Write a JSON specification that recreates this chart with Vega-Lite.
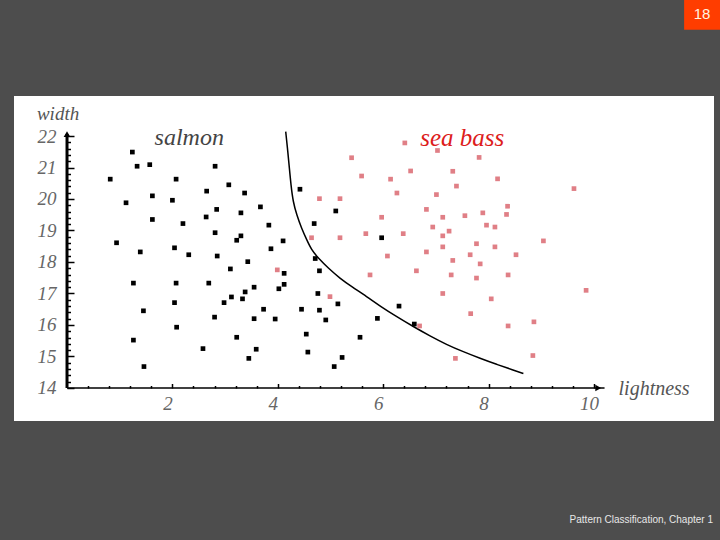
{
  "$schema": "https://vega.github.io/schema/vega-lite/v6.json",
  "width": 700,
  "height": 325,
  "autosize": {"type": "none"},
  "padding": {"left": 14, "top": 96, "right": 6, "bottom": 119},
  "background": "#4d4d4d",
  "config": {"view": {"fill": "white", "stroke": null}},
  "encoding": {
    "x": {
      "field": "x", "type": "quantitative",
      "scale": {"domain": [-1.006, 12.277], "nice": false, "zero": false},
      "axis": {
        "offset": -33, "domain": false, "grid": false, "title": null,
        "values": [0.4,0.8,1.2,1.6,2,2.4,2.8,3.2,3.6,4,4.4,4.8,5.2,5.6,6,6.4,6.8,7.2,7.6,8,8.4,8.8,9.2,9.6,10],
        "labelExpr": "abs(datum.value - 2*round(datum.value/2)) < 0.01 ? format(datum.value,'d') : ''",
        "tickSize": {"condition": {"test": "abs(datum.value - 2*round(datum.value/2)) < 0.01", "value": -4.5}, "value": -2.5},
        "tickColor": "black", "tickWidth": 1.5,
        "labelFont": "Liberation Serif", "labelFontStyle": "italic", "labelFontSize": 19, "labelColor": "#666",
        "labelPadding": 11, "labelOffset": -5, "labelOverlap": false, "labelBound": false, "labelFlush": false
      }
    },
    "y": {
      "field": "y", "type": "quantitative",
      "scale": {"domain": [12.952, 23.27], "nice": false, "zero": false},
      "axis": {
        "offset": -53, "domain": false, "grid": false, "title": null,
        "values": [14,14.2,14.4,14.6,14.8,15,15.2,15.4,15.6,15.8,16,16.2,16.4,16.6,16.8,17,17.2,17.4,17.6,17.8,18,18.2,18.4,18.6,18.8,19,19.2,19.4,19.6,19.8,20,20.2,20.4,20.6,20.8,21,21.2,21.4,21.6,21.8,22],
        "labelExpr": "abs(datum.value - round(datum.value)) < 0.01 ? format(datum.value,'d') : ''",
        "tickSize": {"condition": {"test": "abs(datum.value - round(datum.value)) < 0.01", "value": -7}, "value": -3.5},
        "tickColor": "black", "tickWidth": 1.5,
        "labelFont": "Liberation Serif", "labelFontStyle": "italic", "labelFontSize": 19, "labelColor": "#666",
        "labelPadding": 18, "labelOverlap": false, "labelBound": false, "labelFlush": false
      }
    }
  },
  "layer": [
    {
      "data": {"values": [{"x": 11.71, "x2": 12.5, "y": 25.37, "y2": 26.5}]},
      "mark": {"type": "rect", "color": "#ff3d00"},
      "encoding": {"x2": {"field": "x2"}, "y2": {"field": "y2"}}
    },
    {
      "data": {"values": [{"x": 12.05, "y": 25.87, "t": "18"}]},
      "mark": {"type": "text", "font": "Liberation Sans", "fontSize": 15, "color": "#fff3e0", "align": "center", "baseline": "middle"},
      "encoding": {"text": {"field": "t"}}
    },
    {
      "data": {"values": [{"x": 12.258, "y": 9.81, "t": "Pattern Classification, Chapter 1"}]},
      "mark": {"type": "text", "font": "Liberation Sans", "fontSize": 10, "color": "#e8e8e8", "align": "right", "baseline": "middle"},
      "encoding": {"text": {"field": "t"}}
    },
    {
      "data": {"values": [{"x": 0, "y": 14, "x2": 0, "y2": 22.05}]},
      "mark": {"type": "rule", "color": "black", "strokeWidth": 3},
      "encoding": {"x2": {"field": "x2"}, "y2": {"field": "y2"}}
    },
    {
      "data": {"values": [{"x": 0, "y": 14, "x2": 10.2, "y2": 14}]},
      "mark": {"type": "rule", "color": "black", "strokeWidth": 1.5},
      "encoding": {"x2": {"field": "x2"}, "y2": {"field": "y2"}}
    },
    {
      "data": {"values": [{"x": 0, "y": 22.06}]},
      "mark": {"type": "point", "shape": "triangle-up", "filled": true, "color": "black", "size": 45, "opacity": 1}
    },
    {
      "data": {"values": [{"x": 10.08, "y": 14}]},
      "mark": {"type": "point", "shape": "triangle-right", "filled": true, "color": "black", "size": 45, "opacity": 1}
    },
    {
      "data": {"values": [
        {"x": 4.15, "y": 22.14}, {"x": 4.19, "y": 21.5}, {"x": 4.22, "y": 20.97}, {"x": 4.25, "y": 20.44},
        {"x": 4.29, "y": 19.91}, {"x": 4.36, "y": 19.49}, {"x": 4.45, "y": 19.07}, {"x": 4.55, "y": 18.7},
        {"x": 4.64, "y": 18.38}, {"x": 4.77, "y": 18.12}, {"x": 4.96, "y": 17.8}, {"x": 5.18, "y": 17.48},
        {"x": 5.4, "y": 17.22}, {"x": 5.69, "y": 16.9}, {"x": 5.94, "y": 16.6}, {"x": 6.26, "y": 16.26},
        {"x": 6.57, "y": 15.95}, {"x": 6.89, "y": 15.65}, {"x": 7.2, "y": 15.38}, {"x": 7.52, "y": 15.15},
        {"x": 7.84, "y": 14.94}, {"x": 8.15, "y": 14.75}, {"x": 8.47, "y": 14.57}, {"x": 8.66, "y": 14.46}
      ]},
      "mark": {"type": "line", "color": "black", "strokeWidth": 1.5, "interpolate": "basis"},
      "encoding": {"order": {"field": "x"}}
    },
    {
      "data": {"values": [
        {"x": 1.24, "y": 21.49, "cls": "salmon"}, {"x": 1.33, "y": 21.04, "cls": "salmon"}, {"x": 1.57, "y": 21.09, "cls": "salmon"},
        {"x": 2.81, "y": 21.04, "cls": "salmon"}, {"x": 0.82, "y": 20.63, "cls": "salmon"}, {"x": 2.07, "y": 20.63, "cls": "salmon"},
        {"x": 3.07, "y": 20.45, "cls": "salmon"}, {"x": 2.65, "y": 20.25, "cls": "salmon"}, {"x": 3.37, "y": 20.19, "cls": "salmon"},
        {"x": 1.62, "y": 20.1, "cls": "salmon"}, {"x": 1.12, "y": 19.88, "cls": "salmon"}, {"x": 2.0, "y": 19.96, "cls": "salmon"},
        {"x": 3.67, "y": 19.75, "cls": "salmon"}, {"x": 2.84, "y": 19.67, "cls": "salmon"}, {"x": 3.3, "y": 19.56, "cls": "salmon"},
        {"x": 2.64, "y": 19.43, "cls": "salmon"}, {"x": 1.62, "y": 19.35, "cls": "salmon"}, {"x": 2.2, "y": 19.22, "cls": "salmon"},
        {"x": 2.81, "y": 18.93, "cls": "salmon"}, {"x": 3.3, "y": 18.83, "cls": "salmon"}, {"x": 3.22, "y": 18.69, "cls": "salmon"},
        {"x": 0.94, "y": 18.61, "cls": "salmon"}, {"x": 2.04, "y": 18.45, "cls": "salmon"}, {"x": 1.39, "y": 18.32, "cls": "salmon"},
        {"x": 2.31, "y": 18.23, "cls": "salmon"}, {"x": 2.85, "y": 18.19, "cls": "salmon"}, {"x": 3.43, "y": 18.01, "cls": "salmon"},
        {"x": 3.1, "y": 17.78, "cls": "salmon"}, {"x": 1.26, "y": 17.33, "cls": "salmon"}, {"x": 2.07, "y": 17.33, "cls": "salmon"},
        {"x": 2.69, "y": 17.33, "cls": "salmon"}, {"x": 3.55, "y": 17.2, "cls": "salmon"}, {"x": 3.38, "y": 17.05, "cls": "salmon"},
        {"x": 3.12, "y": 16.89, "cls": "salmon"}, {"x": 3.33, "y": 16.83, "cls": "salmon"}, {"x": 2.98, "y": 16.71, "cls": "salmon"},
        {"x": 2.04, "y": 16.71, "cls": "salmon"}, {"x": 3.73, "y": 16.5, "cls": "salmon"}, {"x": 1.45, "y": 16.45, "cls": "salmon"},
        {"x": 2.8, "y": 16.25, "cls": "salmon"}, {"x": 3.55, "y": 16.2, "cls": "salmon"}, {"x": 2.08, "y": 15.93, "cls": "salmon"},
        {"x": 3.22, "y": 15.61, "cls": "salmon"}, {"x": 1.26, "y": 15.52, "cls": "salmon"}, {"x": 2.58, "y": 15.25, "cls": "salmon"},
        {"x": 3.59, "y": 15.23, "cls": "salmon"}, {"x": 3.45, "y": 14.94, "cls": "salmon"}, {"x": 1.46, "y": 14.68, "cls": "salmon"},
        {"x": 4.42, "y": 20.31, "cls": "salmon"}, {"x": 5.1, "y": 19.62, "cls": "salmon"}, {"x": 3.83, "y": 19.17, "cls": "salmon"},
        {"x": 4.69, "y": 19.22, "cls": "salmon"}, {"x": 4.1, "y": 18.67, "cls": "salmon"}, {"x": 3.87, "y": 18.42, "cls": "salmon"},
        {"x": 5.97, "y": 18.77, "cls": "salmon"}, {"x": 4.71, "y": 18.11, "cls": "salmon"}, {"x": 4.79, "y": 17.72, "cls": "salmon"},
        {"x": 4.12, "y": 17.64, "cls": "salmon"}, {"x": 4.12, "y": 17.29, "cls": "salmon"}, {"x": 4.02, "y": 17.15, "cls": "salmon"},
        {"x": 4.76, "y": 17.0, "cls": "salmon"}, {"x": 4.45, "y": 16.5, "cls": "salmon"}, {"x": 5.14, "y": 16.67, "cls": "salmon"},
        {"x": 4.79, "y": 16.47, "cls": "salmon"}, {"x": 3.95, "y": 16.19, "cls": "salmon"}, {"x": 4.91, "y": 16.16, "cls": "salmon"},
        {"x": 6.3, "y": 16.6, "cls": "salmon"}, {"x": 5.89, "y": 16.21, "cls": "salmon"}, {"x": 6.59, "y": 16.03, "cls": "salmon"},
        {"x": 4.54, "y": 15.71, "cls": "salmon"}, {"x": 5.56, "y": 15.61, "cls": "salmon"}, {"x": 4.57, "y": 15.14, "cls": "salmon"},
        {"x": 5.22, "y": 14.97, "cls": "salmon"}, {"x": 5.07, "y": 14.68, "cls": "salmon"},
        {"x": 6.41, "y": 21.78, "cls": "sea bass"}, {"x": 7.03, "y": 21.54, "cls": "sea bass"}, {"x": 5.4, "y": 21.31, "cls": "sea bass"},
        {"x": 7.82, "y": 21.32, "cls": "sea bass"}, {"x": 6.52, "y": 20.89, "cls": "sea bass"}, {"x": 7.32, "y": 20.88, "cls": "sea bass"},
        {"x": 5.59, "y": 20.73, "cls": "sea bass"}, {"x": 6.14, "y": 20.63, "cls": "sea bass"}, {"x": 8.17, "y": 20.64, "cls": "sea bass"},
        {"x": 7.39, "y": 20.41, "cls": "sea bass"}, {"x": 6.26, "y": 20.19, "cls": "sea bass"}, {"x": 7.01, "y": 20.14, "cls": "sea bass"},
        {"x": 4.79, "y": 20.01, "cls": "sea bass"}, {"x": 5.18, "y": 20.01, "cls": "sea bass"}, {"x": 6.82, "y": 19.67, "cls": "sea bass"},
        {"x": 7.89, "y": 19.56, "cls": "sea bass"}, {"x": 7.55, "y": 19.47, "cls": "sea bass"}, {"x": 5.97, "y": 19.42, "cls": "sea bass"},
        {"x": 7.13, "y": 19.42, "cls": "sea bass"}, {"x": 7.96, "y": 19.17, "cls": "sea bass"}, {"x": 8.12, "y": 19.11, "cls": "sea bass"},
        {"x": 6.94, "y": 19.11, "cls": "sea bass"}, {"x": 7.25, "y": 18.98, "cls": "sea bass"}, {"x": 7.13, "y": 18.83, "cls": "sea bass"},
        {"x": 4.64, "y": 18.77, "cls": "sea bass"}, {"x": 5.18, "y": 18.77, "cls": "sea bass"}, {"x": 5.67, "y": 18.9, "cls": "sea bass"},
        {"x": 6.38, "y": 18.9, "cls": "sea bass"}, {"x": 7.77, "y": 18.58, "cls": "sea bass"}, {"x": 8.12, "y": 18.48, "cls": "sea bass"},
        {"x": 7.13, "y": 18.48, "cls": "sea bass"}, {"x": 6.82, "y": 18.32, "cls": "sea bass"}, {"x": 7.65, "y": 18.23, "cls": "sea bass"},
        {"x": 6.08, "y": 18.19, "cls": "sea bass"}, {"x": 7.32, "y": 18.05, "cls": "sea bass"}, {"x": 7.84, "y": 17.94, "cls": "sea bass"},
        {"x": 9.62, "y": 20.33, "cls": "sea bass"}, {"x": 8.36, "y": 19.77, "cls": "sea bass"}, {"x": 8.34, "y": 19.51, "cls": "sea bass"},
        {"x": 9.04, "y": 18.67, "cls": "sea bass"}, {"x": 8.52, "y": 18.23, "cls": "sea bass"}, {"x": 3.99, "y": 17.75, "cls": "sea bass"},
        {"x": 6.63, "y": 17.72, "cls": "sea bass"}, {"x": 5.75, "y": 17.59, "cls": "sea bass"}, {"x": 7.29, "y": 17.59, "cls": "sea bass"},
        {"x": 7.77, "y": 17.49, "cls": "sea bass"}, {"x": 7.13, "y": 17.0, "cls": "sea bass"}, {"x": 8.05, "y": 16.83, "cls": "sea bass"},
        {"x": 4.99, "y": 16.9, "cls": "sea bass"}, {"x": 7.66, "y": 16.36, "cls": "sea bass"}, {"x": 6.69, "y": 15.97, "cls": "sea bass"},
        {"x": 7.37, "y": 14.94, "cls": "sea bass"}, {"x": 8.37, "y": 17.59, "cls": "sea bass"}, {"x": 9.85, "y": 17.1, "cls": "sea bass"},
        {"x": 8.86, "y": 16.1, "cls": "sea bass"}, {"x": 8.37, "y": 15.97, "cls": "sea bass"}, {"x": 8.84, "y": 15.03, "cls": "sea bass"}
      ]},
      "mark": {"type": "point", "shape": "square", "filled": true, "size": 22, "opacity": 1},
      "encoding": {
        "color": {"field": "cls", "type": "nominal", "scale": {"domain": ["salmon", "sea bass"], "range": ["#000000", "#e07f86"]}, "legend": null}
      }
    },
    {
      "data": {"values": [{"x": 2.32, "y": 21.94, "t": "salmon"}]},
      "mark": {"type": "text", "font": "Liberation Serif", "fontStyle": "italic", "fontSize": 24, "color": "#444444", "align": "center", "baseline": "middle"},
      "encoding": {"text": {"field": "t"}}
    },
    {
      "data": {"values": [{"x": 7.5, "y": 21.94, "t": "sea bass"}]},
      "mark": {"type": "text", "font": "Liberation Serif", "fontStyle": "italic", "fontSize": 25, "color": "#dd1c1c", "align": "center", "baseline": "middle"},
      "encoding": {"text": {"field": "t"}}
    },
    {
      "data": {"values": [{"x": -0.17, "y": 22.7, "t": "width"}]},
      "mark": {"type": "text", "font": "Liberation Serif", "fontStyle": "italic", "fontSize": 19, "color": "#555555", "align": "center", "baseline": "middle"},
      "encoding": {"text": {"field": "t"}}
    },
    {
      "data": {"values": [{"x": 11.14, "y": 13.97, "t": "lightness"}]},
      "mark": {"type": "text", "font": "Liberation Serif", "fontStyle": "italic", "fontSize": 20, "color": "#555555", "align": "center", "baseline": "middle"},
      "encoding": {"text": {"field": "t"}}
    }
  ]
}
